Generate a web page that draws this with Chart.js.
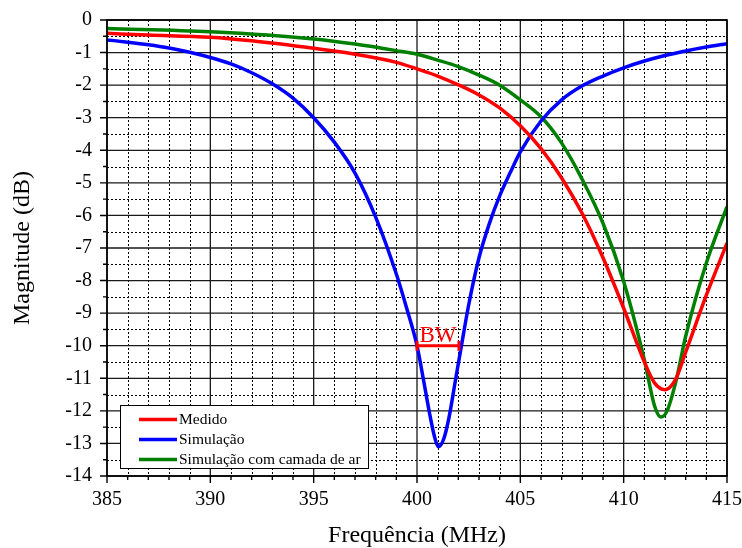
<!DOCTYPE html>
<html>
<head>
<meta charset="utf-8">
<script src="https://cdn.jsdelivr.net/npm/chart.js@4.4.0/dist/chart.umd.min.js"></script>
<style>
    html, body { margin: 0; padding: 0; background: #fff; }
    #wrap { width: 742px; height: 548px; }
</style>
</head>
<body>
<div id="wrap"><canvas id="chart"></canvas></div>
<script>
// Dados: frequência (MHz) e magnitude (dB)
const freqMedido = [385, 387, 390, 392, 395, 397, 399, 400, 401, 402, 403, 404, 405, 406, 407, 408, 409, 410, 411, 411.5, 412, 412.5, 413, 414, 415];
const magMedido = [-0.41, -0.46, -0.53, -0.64, -0.87, -1.05, -1.3, -1.5, -1.72, -1.99, -2.3, -2.7, -3.25, -3.95, -4.85, -5.95, -7.3, -8.85, -10.5, -11.15, -11.35, -11.05, -10.2, -8.45, -6.85];

const freqSimulacao = [385, 386, 387, 388, 389, 390, 391, 392, 393, 394, 395, 396, 397, 398, 399, 399.5, 400, 400.3, 400.6, 400.85, 401.05, 401.3, 401.55, 401.85, 402.15, 402.5, 403, 403.5, 404, 404.5, 405, 406, 407, 408, 409, 410, 411, 412, 413, 414, 415];
const magSimulacao = [-0.61, -0.68, -0.76, -0.86, -0.99, -1.15, -1.35, -1.62, -1.96, -2.4, -3.0, -3.75, -4.7, -6.05, -7.8, -8.85, -10.0, -11.0, -12.05, -12.8, -13.1, -12.85, -12.2, -11.1, -10.0, -8.75, -7.3, -6.25, -5.4, -4.7, -4.05, -3.1, -2.45, -2.02, -1.72, -1.47, -1.26, -1.09, -0.95, -0.83, -0.73];

const freqSimAr = [385, 390, 395, 397, 399, 400, 401, 402, 403, 404, 405, 406, 407, 408, 409, 410, 411, 411.5, 411.8, 412.1, 412.55, 413, 414, 415];
const magSimAr = [-0.26, -0.36, -0.58, -0.74, -0.94, -1.05, -1.23, -1.43, -1.69, -2.0, -2.45, -2.97, -3.78, -4.9, -6.24, -8.03, -10.43, -11.86, -12.19, -12.0, -11.04, -9.71, -7.46, -5.73];

// Eixos
const xMin = 385, xMax = 415, xMajor = 5, xMinor = 1;
const yMin = -14, yMax = 0, yMajor = 1, yMinor = 0.5;

// Marcação da largura de banda (BW)
const bwInicio = 400.0, bwFim = 402.03, bwNivel = -10;

const fonte = "'Liberation Serif', 'Times New Roman', serif";

function toPoints(xs, ys) {
    return xs.map((v, i) => ({x: v, y: ys[i]}));
}

function isMajor(v, step) {
    return Math.abs(v / step - Math.round(v / step)) < 1e-6;
}

// Grade com linhas principais sólidas e secundárias pontilhadas
const gradePlugin = {
    id: 'grade',
    beforeDatasetsDraw(chart) {
        const {ctx, chartArea: a, scales: {x, y}} = chart;
        ctx.save();
        const nx = Math.round((xMax - xMin) / xMinor);
        const ny = Math.round((yMax - yMin) / yMinor);
        // pontilhadas
        ctx.strokeStyle = '#000';
        ctx.lineWidth = 1;
        ctx.setLineDash([2, 2]);
        ctx.beginPath();
        for (let i = 0; i <= nx; i++) {
            const v = xMin + i * xMinor;
            if (isMajor(v, xMajor)) continue;
            const px = Math.round(x.getPixelForValue(v)) + 0.5;
            ctx.moveTo(px, a.top);
            ctx.lineTo(px, a.bottom);
        }
        for (let i = 0; i <= ny; i++) {
            const v = yMin + i * yMinor;
            if (isMajor(v, yMajor)) continue;
            const py = Math.round(y.getPixelForValue(v)) + 0.5;
            ctx.moveTo(a.left, py);
            ctx.lineTo(a.right, py);
        }
        ctx.stroke();
        // sólidas
        ctx.setLineDash([]);
        ctx.strokeStyle = '#1a1a1a';
        ctx.lineWidth = 1.3;
        ctx.beginPath();
        for (let i = 0; i <= nx; i++) {
            const v = xMin + i * xMinor;
            if (!isMajor(v, xMajor)) continue;
            const px = x.getPixelForValue(v);
            ctx.moveTo(px, a.top);
            ctx.lineTo(px, a.bottom);
        }
        for (let i = 0; i <= ny; i++) {
            const v = yMin + i * yMinor;
            if (!isMajor(v, yMajor)) continue;
            const py = y.getPixelForValue(v);
            ctx.moveTo(a.left, py);
            ctx.lineTo(a.right, py);
        }
        ctx.stroke();
        ctx.restore();
    },
    afterDatasetsDraw(chart) {
        const {ctx, chartArea: a, scales: {x, y}} = chart;
        ctx.save();
        // moldura
        ctx.strokeStyle = '#000';
        ctx.lineWidth = 1.6;
        ctx.strokeRect(a.left, a.top, a.right - a.left, a.bottom - a.top);

        // marcas dos eixos
        ctx.lineWidth = 1.4;
        ctx.beginPath();
        const nx = Math.round((xMax - xMin) / xMinor);
        for (let i = 0; i <= nx; i++) {
            const v = xMin + i * xMinor;
            const px = x.getPixelForValue(v);
            ctx.moveTo(px, a.bottom);
            ctx.lineTo(px, a.bottom + (isMajor(v, xMajor) ? 7 : 4));
        }
        const ny = Math.round((yMax - yMin) / yMinor);
        for (let i = 0; i <= ny; i++) {
            const v = yMin + i * yMinor;
            const py = y.getPixelForValue(v);
            ctx.moveTo(a.left, py);
            ctx.lineTo(a.left - (isMajor(v, yMajor) ? 7 : 4), py);
        }
        ctx.stroke();

        // BW
        const x1 = x.getPixelForValue(bwInicio);
        const x2 = x.getPixelForValue(bwFim);
        const yb = y.getPixelForValue(bwNivel);
        ctx.strokeStyle = '#ff0000';
        ctx.lineWidth = 3;
        ctx.beginPath();
        ctx.moveTo(x1, yb); ctx.lineTo(x2, yb);
        ctx.moveTo(x1, yb - 5); ctx.lineTo(x1, yb + 5);
        ctx.moveTo(x2, yb - 5); ctx.lineTo(x2, yb + 5);
        ctx.stroke();
        ctx.fillStyle = '#ff0000';
        ctx.font = '23px ' + fonte;
        ctx.textAlign = 'center';
        ctx.textBaseline = 'alphabetic';
        ctx.fillText('BW', (x1 + x2) / 2, yb - 4);

        // legenda
        const lx = a.left + 13, ly = a.bottom - 71, lw = 248, lh = 63;
        ctx.fillStyle = '#fff';
        ctx.fillRect(lx, ly, lw, lh);
        ctx.strokeStyle = '#000';
        ctx.lineWidth = 1;
        ctx.strokeRect(lx + 0.5, ly + 0.5, lw, lh);
        ctx.font = '15.5px ' + fonte;
        ctx.textAlign = 'left';
        ctx.textBaseline = 'middle';
        chart.data.datasets.forEach((ds, i) => {
            const ry = ly + 14.5 + i * 20;
            ctx.strokeStyle = ds.borderColor;
            ctx.lineWidth = 3.5;
            ctx.beginPath();
            ctx.moveTo(lx + 19, ry);
            ctx.lineTo(lx + 57, ry);
            ctx.stroke();
            ctx.fillStyle = '#000';
            ctx.fillText(ds.label, lx + 59, ry);
        });
        ctx.restore();
    }
};

const ctx = document.getElementById('chart').getContext('2d');
new Chart(ctx, {
    type: 'line',
    data: {
        datasets: [
            {
                label: 'Medido',
                data: toPoints(freqMedido, magMedido),
                borderColor: '#ff0000'
            },
            {
                label: 'Simulação',
                data: toPoints(freqSimulacao, magSimulacao),
                borderColor: '#0000ff'
            },
            {
                label: 'Simulação com camada de ar',
                data: toPoints(freqSimAr, magSimAr),
                borderColor: '#008000'
            }
        ]
    },
    options: {
        responsive: true,
        maintainAspectRatio: false,
        animation: false,
        layout: {padding: {top: 20, right: 15, left: 0, bottom: 0}},
        elements: {
            point: {radius: 0},
            line: {borderWidth: 3.5, tension: 0.4, cubicInterpolationMode: 'monotone', fill: false}
        },
        plugins: {
            legend: {display: false},
            tooltip: {enabled: false}
        },
        scales: {
            x: {
                type: 'linear',
                min: xMin,
                max: xMax,
                ticks: {stepSize: xMajor, color: '#000', padding: 12, font: {family: fonte, size: 20}},
                grid: {display: false, drawTicks: false},
                border: {display: false},
                title: {
                    display: true,
                    text: 'Frequência (MHz)',
                    color: '#000',
                    font: {family: fonte, size: 24, lineHeight: 1},
                    padding: 0
                },
                afterFit: s => {
                    s.height = 72;
                    s.paddingLeft = 0;
                    s.paddingRight = 0;
                }
            },
            y: {
                type: 'linear',
                min: yMin,
                max: yMax,
                ticks: {stepSize: yMajor, color: '#000', padding: 15, font: {family: fonte, size: 20}},
                grid: {display: false, drawTicks: false},
                border: {display: false},
                title: {
                    display: true,
                    text: 'Magnitude (dB)',
                    color: '#000',
                    font: {family: fonte, size: 24},
                    padding: {top: 8.6, bottom: 0}
                },
                afterFit: s => {
                    s.width = 107;
                    s.paddingTop = 0;
                    s.paddingBottom = 0;
                }
            }
        }
    },
    plugins: [gradePlugin]
});
</script>
</body>
</html>
